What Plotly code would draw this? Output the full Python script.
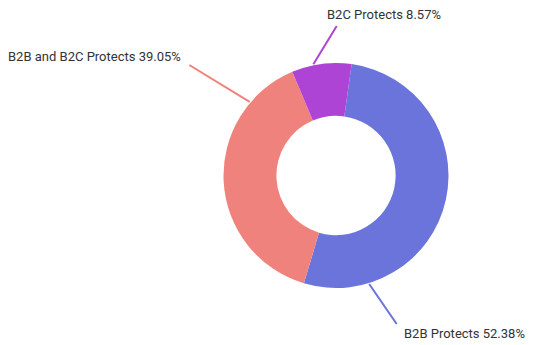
import math
import plotly.graph_objects as go

labels = ["B2B Protects", "B2B and B2C Protects", "B2C Protects"]
values = [52.38, 39.05, 8.57]
colors = ["#6a74db", "#f0827d", "#ae44d6"]

W, H = 535, 345
CX, CY, R = 336, 175.5, 112.5  # pie centre / radius in px
HOLE = 0.53
ROT = 8

def px(x):
    return x / W

def py(y):
    return 1 - y / H

fig = go.Figure(go.Pie(
    labels=labels, values=values, hole=HOLE, sort=False, direction="clockwise",
    rotation=ROT, marker=dict(colors=colors, line=dict(width=0)),
    textinfo="none", hoverinfo="label+percent", showlegend=False,
    domain=dict(x=[px(CX - R), px(CX + R)], y=[py(CY + R), py(CY - R)]),
))

# leader lines: start angle on ring (deg clockwise from top), end point, label anchor
leaders = [
    (163, 396.7, 324, 402, 333, "left"),
    (310.5, 189.3, 65, 183, 56.5, "right"),
    (348.5, 336.7, 26, 325, 14, "left"),
]
shapes = []
annotations = []
for (ang, ex, ey, tx, ty, xa), lab, val, col in zip(leaders, labels, values, colors):
    a = math.radians(ang)
    sx = CX + (R + 1) * math.sin(a)
    sy = CY - (R + 1) * math.cos(a)
    shapes.append(dict(type="line", xref="paper", yref="paper",
                       x0=px(sx), y0=py(sy), x1=px(ex), y1=py(ey),
                       line=dict(color=col, width=2)))
    annotations.append(dict(text=f"{lab} {val:.2f}%", xref="paper", yref="paper",
                            x=px(tx), y=py(ty), xanchor=xa, yanchor="middle",
                            showarrow=False,
                            font=dict(family="Roboto", size=13, color="#333333")))

fig.update_layout(
    width=W, height=H, margin=dict(l=0, r=0, t=0, b=0),
    paper_bgcolor="white", plot_bgcolor="white",
    shapes=shapes, annotations=annotations,
)
fig.write_html("out.html", config={"displayModeBar": False},
               post_script="document.body.style.margin='0';document.body.style.overflow='hidden';")
